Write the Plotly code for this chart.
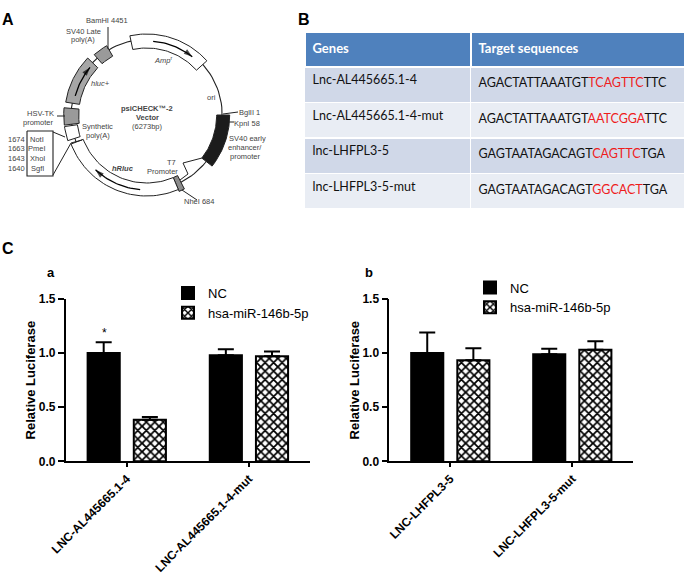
import math
import plotly.graph_objects as go

# ---------- panel C data ----------
series_names = ["NC", "hsa-miR-146b-5p"]
cats_a = ["LNC-AL445665.1-4", "LNC-AL445665.1-4-mut"]
nc_a = [1.0, 0.98]
nc_a_err = [0.10, 0.055]
mir_a = [0.385, 0.97]
mir_a_err = [0.025, 0.045]
cats_b = ["LNC-LHFPL3-5", "LNC-LHFPL3-5-mut"]
nc_b = [1.0, 0.99]
nc_b_err = [0.19, 0.05]
mir_b = [0.935, 1.03]
mir_b_err = [0.11, 0.08]
y_ticks = [0, 0.5, 1.0, 1.5]
y_tick_labels = ["0.0", "0.5", "1.0", "1.5"]

# ---------- panel B data ----------
table_header = ["Genes", "Target sequences"]
genes = ["Lnc-AL445665.1-4", "Lnc-AL445665.1-4-mut", "lnc-LHFPL3-5", "lnc-LHFPL3-5-mut"]
seq_prefix = ["AGACTATTAAATGT", "AGACTATTAAATGT", "GAGTAATAGACAGT", "GAGTAATAGACAGT"]
seq_site = ["TCAGTTC", "AATCGGA", "CAGTTC", "GGCACT"]
seq_suffix = ["TTC", "TTC", "TGA", "TGA"]

# ---------- panel A data (vector map) ----------
# name, start deg, end deg (clockwise from 12 o'clock), inner r, outer r, fill
plasmid_blocks = [
    ("Ampr", -12, 48, 67, 81, "white"),
    ("SV40 early", 90, 128, 70, 83, "#1c1c1c"),
    ("NheI", 153, 157, 68, 83, "#8c8c8c"),
    ("hRluc", 157, 249, 68, 81, "white"),
    ("Synthetic polyA", 252, 262, 70, 83, "white"),
    ("HSV-TK", 263, 275, 68, 83, "#9a9a9a"),
    ("hluc+", 279, 314, 68, 82, "#a6a6a6"),
    ("SV40 late", 319, 330, 68, 80, "#9a9a9a"),
]
# start deg, end deg, radius
plasmid_arrows = [(5, 38, 74), (185, 223, 75), (285, 310, 74)]
plasmid_labels = [
    ("BamHI 4451", 107, 20), ("SV40 Late", 83, 31), ("poly(A)", 83, 39),
    ("<i>Amp</i><sup>r</sup>", 163, 60), ("<i>hluc+</i>", 100, 83), ("ori", 211, 97),
    ("<b>psiCHECK™-2</b>", 147, 108), ("<b>Vector</b>", 147, 117), ("(6273bp)", 147, 126),
    ("BglII 1", 249, 112), ("KpnI 58", 247, 123),
    ("SV40 early", 247, 138), ("enhancer/", 245, 147), ("promoter", 245, 156),
    ("T7", 171, 162), ("Promoter", 162, 171), ("<b><i>hRluc</i></b>", 123, 168),
    ("NheI 684", 199, 201), ("HSV-TK", 40, 113), ("promoter", 38, 122),
    ("Synthetic", 97, 126), ("poly(A)", 98, 135),
    ("1674", 16, 139), ("1663", 16, 148), ("1643", 16, 158), ("1640", 16, 168),
    ("NotI", 37, 139), ("PmeI", 37, 148), ("XhoI", 37, 158), ("SgfI", 37, 168),
]
plasmid_center = (146.7, 115)
plasmid_radius = 75.5
W, H = 685, 574


def pt(theta, r):
    a = math.radians(theta)
    return plasmid_center[0] + r * math.sin(a), plasmid_center[1] - r * math.cos(a)


def arc(t0, t1, r, n=40):
    pts = [pt(t0 + (t1 - t0) * i / n, r) for i in range(n + 1)]
    return [p[0] for p in pts], [p[1] for p in pts]


fig = go.Figure()

# --- Panel A ---
def plasmid_line(xs, ys, width=1.0):
    fig.add_trace(go.Scatter(x=xs, y=ys, mode="lines", xaxis="x3", yaxis="y3", showlegend=False,
                             hoverinfo="skip", line=dict(color="#222", width=width)))

cx, cy = arc(0, 360, plasmid_radius, 120)
plasmid_line(cx, cy, 1.1)
for name, t0, t1, ri, ro, fill in plasmid_blocks:
    xo, yo = arc(t0, t1, ro)
    xi, yi = arc(t1, t0, ri)
    fig.add_trace(go.Scatter(x=xo + xi + [xo[0]], y=yo + yi + [yo[0]], mode="lines", fill="toself",
                             fillcolor=fill, xaxis="x3", yaxis="y3", showlegend=False, hoverinfo="skip",
                             name=name, line=dict(color="#222", width=1)))
for t0, t1, r in plasmid_arrows:
    xs, ys = arc(t0, t1, r, 20)
    fig.add_trace(go.Scatter(x=xs, y=ys, mode="lines", xaxis="x3", yaxis="y3", showlegend=False,
                             hoverinfo="skip", line=dict(color="black", width=1.3)))
    fig.add_trace(go.Scatter(x=xs[-2:], y=ys[-2:], mode="markers", xaxis="x3", yaxis="y3", showlegend=False,
                             hoverinfo="skip",
                             marker=dict(symbol="arrow", angleref="previous", size=[0, 9], color="black",
                                         line=dict(width=0))))
# leader lines and site box
plasmid_line([108, 108], [27, 49])
plasmid_line([223, 238], [114, 112])
plasmid_line([229, 234], [122, 122])
plasmid_line([202, 183, 188, 180], [158, 163, 174, 180])
plasmid_line([182, 197], [190, 200])
plasmid_line([57, 65], [116, 116])
plasmid_line([27, 53, 53, 27, 27], [131, 131, 176, 176, 131], 1.1)
plasmid_line([53, 65], [132, 137])
plasmid_line([53, 71, 82], [175, 143, 140])
for text, x, y in plasmid_labels:
    fig.add_annotation(x=x, y=y, xref="x3", yref="y3", text=text, showarrow=False,
                       font=dict(family="Liberation Sans", size=7.5, color="#444"))

# --- Panel B ---
fig.add_trace(go.Table(
    domain=dict(x=[304.5 / W, 684.5 / W], y=[1 - 209.5 / H, 1 - 32 / H]),
    columnwidth=[166, 214],
    header=dict(values=[f"<b>{h}</b>" for h in table_header], height=35, align="left",
                fill_color="#4f81bd", line=dict(color="white", width=2),
                font=dict(family="Lato", size=13, color="white")),
    cells=dict(values=[genes,
                       [f'{a}<span style="color:#ee1c1c">{b}</span>{c}<br>'
                        for a, b, c in zip(seq_prefix, seq_site, seq_suffix)]],
               height=35.5, align="left",
               fill_color=[["#d0d8e8", "#e9edf4"] * 2] * 2,
               line=dict(color="white", width=1.5),
               font=dict(family="Lato", size=12.5, color="#111")),
))


# --- Panel C ---
def add_bars(cats, nc, nc_err, mir, mir_err, xa, ya, legend):
    for name, vals, errs, pattern in [
        (series_names[0], nc, nc_err, None),
        (series_names[1], mir, mir_err, dict(shape="x", size=6, solidity=0.5, fgcolor="black",
                                             bgcolor="white", fgopacity=1)),
    ]:
        marker = dict(color="black", line=dict(color="black", width=2))
        if pattern:
            marker["color"] = "white"
            marker["pattern"] = pattern
        fig.add_trace(go.Bar(x=cats, y=vals, name=name, xaxis=xa, yaxis=ya, legend=legend, marker=marker,
                             error_y=dict(type="data", array=errs, arrayminus=[0, 0], symmetric=False,
                                          color="black", thickness=2, width=8)))


add_bars(cats_a, nc_a, nc_a_err, mir_a, mir_a_err, "x", "y", "legend")
add_bars(cats_b, nc_b, nc_b_err, mir_b, mir_b_err, "x2", "y2", "legend2")

top, bottom = 1 - 299 / H, 1 - 461.3 / H
axis_font = dict(family="Liberation Sans", size=12, color="black", weight="bold")
x_common = dict(type="category", range=[-0.5, 1.5], showgrid=False, zeroline=False, showline=True,
                linecolor="black", linewidth=1.6, ticks="outside", ticklen=4, tickwidth=1.6, tickcolor="black",
                tickangle=-45, tickfont=axis_font)
y_common = dict(range=[0, 1.5], tickvals=y_ticks, ticktext=y_tick_labels, showgrid=False, zeroline=False,
                showline=True, linecolor="black", linewidth=1.6, ticks="outside", ticklen=6, tickwidth=1.6,
                tickcolor="black", tickfont=axis_font,
                title=dict(text="Relative Luciferase", standoff=0,
                           font=dict(family="Liberation Sans", size=13, color="black", weight="bold")))
legend_common = dict(bgcolor="rgba(0,0,0,0)", xanchor="left", yanchor="top", tracegroupgap=0,
                     font=dict(family="Liberation Sans", size=13, color="black"))

fig.update_layout(
    width=W, height=H, autosize=False, margin=dict(l=0, r=0, t=0, b=0, autoexpand=False),
    paper_bgcolor="white", plot_bgcolor="white",
    barmode="group", bargap=0.244, bargroupgap=0.304,
    xaxis=dict(domain=[65.7 / W, 310 / W], anchor="y", **x_common),
    yaxis=dict(domain=[bottom, top], anchor="x", **y_common),
    xaxis2=dict(domain=[389.3 / W, 633.3 / W], anchor="y2", **x_common),
    yaxis2=dict(domain=[bottom, top], anchor="x2", **y_common),
    xaxis3=dict(domain=[0, 300 / W], range=[0, 300], visible=False, fixedrange=True),
    yaxis3=dict(domain=[1 - 220 / H, 1], range=[220, 0], visible=False, fixedrange=True),
    legend=dict(x=168 / W, y=1 - 278 / H, **legend_common),
    legend2=dict(x=470 / W, y=1 - 272.5 / H, **legend_common),
)

panel_letters = [("A", 0, 9, 16), ("B", 296, 9, 16), ("C", 0, 248, 16), ("a", 45, 272, 13), ("b", 363, 272, 13)]
for text, x, y, size in panel_letters:
    fig.add_annotation(x=x / W, y=1 - y / H, xref="paper", yref="paper", xanchor="left", text=f"<b>{text}</b>",
                       showarrow=False, font=dict(family="Liberation Sans", size=size, color="black"))
fig.add_annotation(x=0, y=1.19, xref="x", yref="y", xshift=-22, text="*", showarrow=False,
                   font=dict(family="Liberation Sans", size=12, color="black"))

fig.write_html("out.html", post_script="document.body.style.margin='0';", config=dict(displayModeBar=False))
